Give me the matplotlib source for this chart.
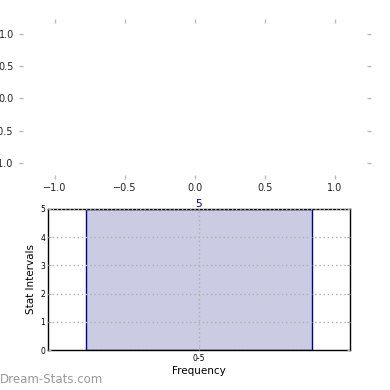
import matplotlib
matplotlib.use("Agg")
import matplotlib.pyplot as plt

categories = ["0-5"]
values = [5]
y_ticks = [0, 1, 2, 3, 4, 5]
top_ticks = [-1.0, -0.5, 0.0, 0.5, 1.0]

fig = plt.figure(figsize=(3.9, 3.9), dpi=100)

# Empty top axes
ax1 = fig.add_axes([23/390, 1-175/390, 344/390, 152/390])
for s in ax1.spines.values():
    s.set_visible(False)
ax1.set_xlim(-1.229, 1.229)
ax1.set_ylim(-1.186, 1.17)
ax1.set_xticks(top_ticks)
ax1.set_yticks(top_ticks)
ax1.tick_params(axis='both', which='both', top=True, right=True, color='#bbbbbb',
                length=3, width=1, labelsize=7, labelcolor='#222222')
ax1.tick_params(axis='y', pad=3.6)
ax1.tick_params(axis='x', pad=2.9)

# Bar axes
ax2 = fig.add_axes([48/390, 40/390, 302/390, 141/390])
x = list(range(len(categories)))
bars = ax2.bar(x, values, width=0.75, color='#cbcbe3', edgecolor='#000080', linewidth=1)
ax2.set_xlim(-0.5, 0.5)
ax2.set_ylim(0, 5)
ax2.set_yticks(y_ticks)
ax2.set_xticks(x)
ax2.set_xticklabels(categories)
ax2.grid(True, linestyle=(0, (1, 2)), color='#b0b0b0', linewidth=1)
ax2.set_axisbelow(False)
ax2.tick_params(axis='y', labelsize=5.5, color='#aaaaaa', length=2, right=True, direction='in', pad=2)
ax2.tick_params(axis='x', labelsize=5.5, color='#aaaaaa', length=2, direction='in', pad=3)
for s in ax2.spines.values():
    s.set_color('black')
    s.set_linewidth(1)
ax2.set_xlabel("Frequency", fontsize=7.5, labelpad=2)
ax2.set_ylabel("Stat Intervals", fontsize=7.5, labelpad=3)
for xi, v in zip(x, values):
    ax2.text(xi, v, str(v), ha='center', va='bottom', color='#000080', fontsize=7.5)

fig.text(0.0, 7/390, "Dream-Stats.com", color='#999999', fontsize=8.5,
         ha='left', va='baseline')

fig.savefig("out.png", dpi=100)
